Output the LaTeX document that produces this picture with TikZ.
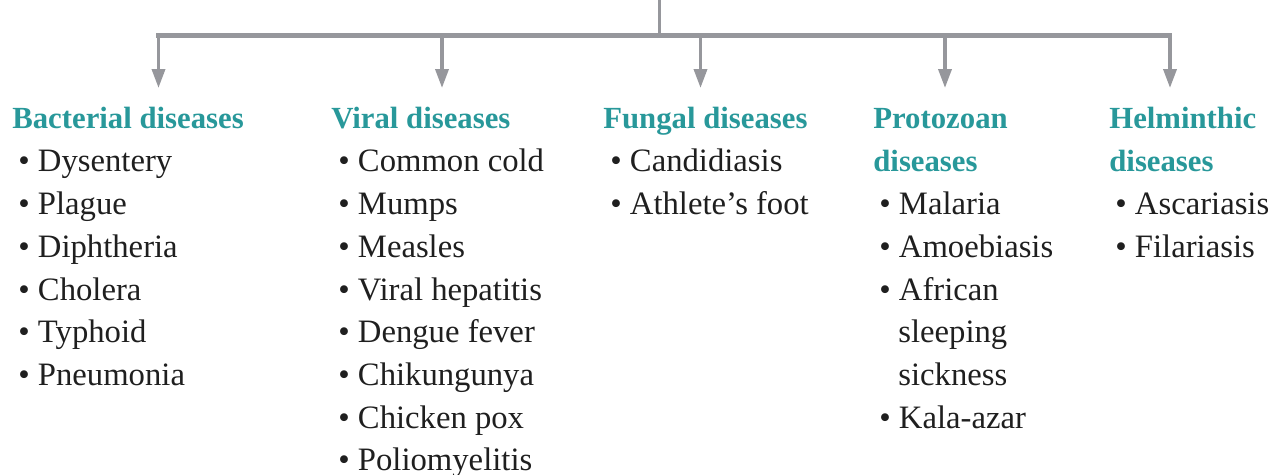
\documentclass[tikz,border=0pt]{standalone}
\usepackage{fontspec}
\setmainfont{Liberation Serif}
\usepackage{tikz}
\usetikzlibrary{arrows.meta, positioning, calc}
\usepackage{xcolor}

\definecolor{headteal}{RGB}{40,152,154}
\definecolor{linegray}{RGB}{150,151,156}

\tikzset{
    head/.style={anchor=base west, inner sep=0pt, text=headteal, font=\fontsize{17.5}{21}\selectfont\bfseries},
    item/.style={anchor=base west, inner sep=0pt, text=black!88, font=\fontsize{18.6}{22}\selectfont},
    arr/.style={draw=linegray, line width=2pt, -{Triangle[width=7.4pt, length=10.8pt]}}
}

\begin{document}
\begin{tikzpicture}[x=0.02cm, y=-0.02cm]
        % Khung bao
        \useasboundingbox (0,0) rectangle (1271,474);

        % Thanh ngang và đường từ trên xuống
        \coordinate (top) at (659,0);
        \coordinate (barL) at (156,35.5);
        \coordinate (barR) at (1172,35.5);
        \coordinate (barM) at (659,35.5);
        \draw[linegray, line width=3.4pt] (barL) -- (barR);
        \draw[linegray, line width=1.7pt] (top) -- (barM);

        % Các mũi tên xuống
        \coordinate (b1) at (158.5,35.5); \coordinate (e1) at (158.5,88);
        \coordinate (b2) at (442,35.5);   \coordinate (e2) at (442,88);
        \coordinate (b3) at (700.5,35.5); \coordinate (e3) at (700.5,88);
        \coordinate (b4) at (945,35.5);   \coordinate (e4) at (945,88);
        \coordinate (b5) at (1170,35.5);  \coordinate (e5) at (1170,88);
        \draw[arr] (b1) -- (e1);
        \draw[arr] (b2) -- (e2);
        \draw[arr] (b3) -- (e3);
        \draw[arr] (b4) -- (e4);
        \draw[arr] (b5) -- (e5);

        % Cột 1: vi khuẩn
        \node[head] (bact) at (12,128) {Bacterial diseases};
        \node[item] (bact1) at (18,171) {\textbullet\ Dysentery};
        \node[item] (bact2) at (18,214) {\textbullet\ Plague};
        \node[item] (bact3) at (18,257) {\textbullet\ Diphtheria};
        \node[item] (bact4) at (18,300) {\textbullet\ Cholera};
        \node[item] (bact5) at (18,342) {\textbullet\ Typhoid};
        \node[item] (bact6) at (18,385) {\textbullet\ Pneumonia};

        % Cột 2: virus
        \node[head] (vir) at (331,128) {Viral diseases};
        \node[item] (vir1) at (338,171) {\textbullet\ Common cold};
        \node[item] (vir2) at (338,214) {\textbullet\ Mumps};
        \node[item] (vir3) at (338,257) {\textbullet\ Measles};
        \node[item] (vir4) at (338,300) {\textbullet\ Viral hepatitis};
        \node[item] (vir5) at (338,342) {\textbullet\ Dengue fever};
        \node[item] (vir6) at (338,385) {\textbullet\ Chikungunya};
        \node[item] (vir7) at (338,428) {\textbullet\ Chicken pox};
        \node[item] (vir8) at (338,470) {\textbullet\ Poliomyelitis};

        % Cột 3: nấm
        \node[head] (fung) at (603,128) {Fungal diseases};
        \node[item] (fung1) at (610,171) {\textbullet\ Candidiasis};
        \node[item] (fung2) at (610,214) {\textbullet\ Athlete’s foot};

        % Cột 4: đơn bào
        \node[head] (prot) at (873,128) {Protozoan};
        \node[head] (protb) at (873,171) {diseases};
        \node[item] (prot1) at (879,214) {\textbullet\ Malaria};
        \node[item] (prot2) at (879,257) {\textbullet\ Amoebiasis};
        \node[item] (prot3) at (879,300) {\textbullet\ African};
        \node[item] (prot3b) at (898,342) {sleeping};
        \node[item] (prot3c) at (898,385) {sickness};
        \node[item] (prot4) at (879,428) {\textbullet\ Kala-azar};

        % Cột 5: giun sán
        \node[head] (helm) at (1109,128) {Helminthic};
        \node[head] (helmb) at (1109,171) {diseases};
        \node[item] (helm1) at (1115,214) {\textbullet\ Ascariasis};
        \node[item] (helm2) at (1115,257) {\textbullet\ Filariasis};
    \end{tikzpicture}
\end{document}
